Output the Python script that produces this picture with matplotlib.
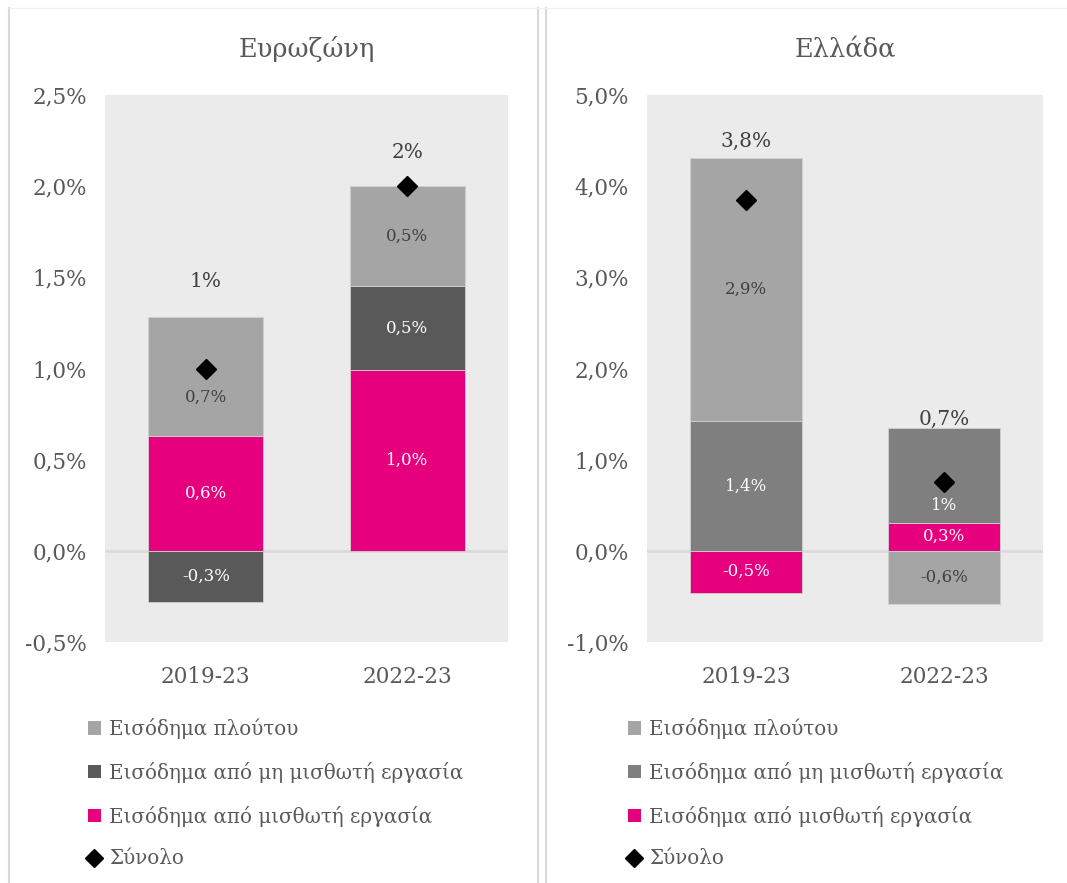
import matplotlib
matplotlib.use("Agg")
import matplotlib.pyplot as plt
from matplotlib.patches import Patch
from matplotlib.lines import Line2D
import numpy as np

plt.rcParams['font.family'] = ['DejaVu Serif']

# ---- data -------------------------------------------------------------
periods = ['2019-23', '2022-23']
series_names = ['Εισόδημα πλούτου', 'Εισόδημα από μη μισθωτή εργασία',
                'Εισόδημα από μισθωτή εργασία']
total_name = 'Σύνολο'

# euro area
ez_wealth = [0.65, 0.55]
ez_self = [-0.28, 0.46]
ez_wage = [0.63, 0.99]
ez_total = [1.0, 2.0]
ez_wealth_lbl = ['0,7%', '0,5%']
ez_self_lbl = ['-0,3%', '0,5%']
ez_wage_lbl = ['0,6%', '1,0%']
ez_total_lbl = ['1%', '2%']

# greece
gr_wealth = [2.89, -0.58]
gr_self = [1.42, 1.04]
gr_wage = [-0.46, 0.31]
gr_total = [3.85, 0.75]
gr_wealth_lbl = ['2,9%', '-0,6%']
gr_self_lbl = ['1,4%', '1%']
gr_wage_lbl = ['-0,5%', '0,3%']
gr_total_lbl = ['3,8%', '0,7%']

# ---- style ------------------------------------------------------------
W, H = 1067, 883
C_WEALTH = '#A5A5A5'
C_WAGE = '#E6007E'
BG = '#EBEBEB'
TXT = '#595959'
DARK_TXT = '#404040'


def stack(values_list):
    """Return bottoms for stacked bars, positives and negatives separately."""
    pos = np.zeros(len(values_list[0]))
    neg = np.zeros(len(values_list[0]))
    bottoms = []
    for vals in values_list:
        vals = np.asarray(vals, dtype=float)
        b = np.where(vals >= 0, pos, neg)
        bottoms.append(b)
        pos = pos + np.where(vals >= 0, vals, 0)
        neg = neg + np.where(vals < 0, vals, 0)
    return bottoms, pos


def draw_panel(ax, title, wage, self_emp, wealth, total, labels, self_color,
               ylim, yticks, ytick_fmt, label_shift, total_shift):
    x = np.arange(len(periods))
    width = 0.57
    order = [(wage, C_WAGE, 'white'), (self_emp, self_color, 'white'),
             (wealth, C_WEALTH, DARK_TXT)]
    bottoms, tops = stack([o[0] for o in order])
    for k, ((vals, col, tcol), bot) in enumerate(zip(order, bottoms)):
        ax.bar(x, vals, width, bottom=bot, color=col, edgecolor='#D0D0D0',
               linewidth=0.6, zorder=2)
        for i in range(len(x)):
            yc = bot[i] + vals[i] / 2
            ax.annotate(labels[k][i], (x[i], yc), xytext=(0, label_shift[k][i]),
                        textcoords='offset points', ha='center', va='center',
                        color=tcol, fontsize=12, zorder=4)
    ax.plot(x, total, linestyle='none', marker='D', markersize=10.5,
            color='black', zorder=5)
    for i in range(len(x)):
        ax.annotate(labels[3][i], (x[i], tops[i]), xytext=(0, total_shift[i]),
                    textcoords='offset points', ha='center', va='center',
                    color=DARK_TXT, fontsize=14.5, zorder=4)

    ax.axhline(0, color='#D9D9D9', linewidth=1.8, zorder=1)
    ax.set_facecolor(BG)
    ax.set_xlim(-0.5, 1.5)
    ax.set_ylim(*ylim)
    ax.set_yticks(yticks)
    ax.set_yticklabels([ytick_fmt(v) for v in yticks])
    ax.set_xticks(x)
    ax.set_xticklabels(periods)
    ax.tick_params(length=0, labelsize=15.5, colors=TXT)
    ax.tick_params(axis='y', pad=13)
    ax.tick_params(axis='x', pad=17)
    for s in ax.spines.values():
        s.set_visible(False)
    ax.set_title(title, fontsize=18.5, color=TXT, pad=27)


def pct(decimals):
    return lambda v: f'{v:.{decimals}f}%'.replace('.', ',')


fig = plt.figure(figsize=(W / 100, H / 100), dpi=100)

ax1 = fig.add_axes([105 / W, 1 - 642 / H, 403 / W, 547 / H])
ax2 = fig.add_axes([647 / W, 1 - 642 / H, 396 / W, 547 / H])

draw_panel(ax1, 'Ευρωζώνη', ez_wage, ez_self, ez_wealth, ez_total,
           [ez_wage_lbl, ez_self_lbl, ez_wealth_lbl, ez_total_lbl],
           '#595959', (-0.5, 2.5), np.arange(-0.5, 2.51, 0.5), pct(1),
           [[0, 0], [0, 0], [-15, 0]], [26, 24])
draw_panel(ax2, 'Ελλάδα', gr_wage, gr_self, gr_wealth, gr_total,
           [gr_wage_lbl, gr_self_lbl, gr_wealth_lbl, gr_total_lbl],
           '#7F7F7F', (-1.0, 5.0), np.arange(-1.0, 5.01, 1.0), pct(1),
           [[0, 0], [0, -22], [0, 0]], [12, 6])

# legends
for xpos, scol in [(80 / W, '#595959'), (620 / W, '#7F7F7F')]:
    handles = [Patch(facecolor=C_WEALTH, label=series_names[0]),
               Patch(facecolor=scol, label=series_names[1]),
               Patch(facecolor=C_WAGE, label=series_names[2]),
               Line2D([], [], linestyle='none', marker='D', markersize=9,
                      color='black', label=total_name)]
    fig.legend(handles=handles, loc='upper left',
               bbox_to_anchor=(xpos, 1 - 710 / H), frameon=False,
               fontsize=14.3, labelcolor=TXT, handlelength=0.65,
               handleheight=0.65, handletextpad=0.4, labelspacing=1.15,
               borderaxespad=0)

# panel frames
for x0 in [9, 538, 546]:
    fig.add_artist(Line2D([x0 / W, x0 / W], [0, 1 - 8 / H], color='#D9D9D9',
                          linewidth=1.5, transform=fig.transFigure))
fig.add_artist(Line2D([9 / W, 1], [1 - 8 / H, 1 - 8 / H], color='#F0F0F0',
                      linewidth=1, transform=fig.transFigure))

plt.savefig('out.png', dpi=100)
plt.close()
